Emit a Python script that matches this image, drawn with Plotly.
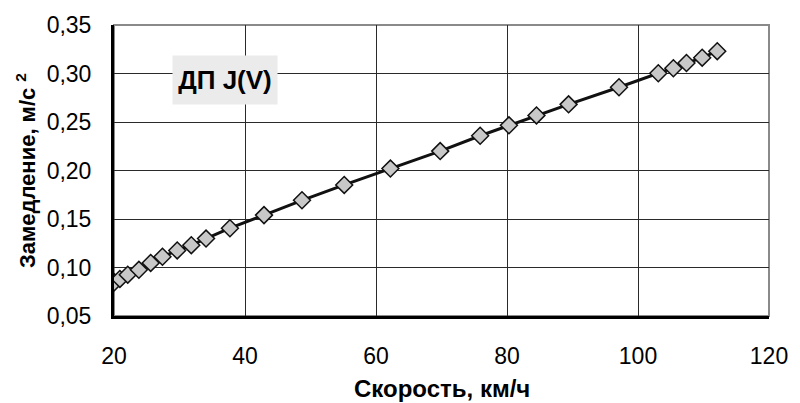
import plotly.graph_objects as go

speed = [20.05, 20.9, 22.1, 23.8, 25.6, 27.4, 29.65, 31.8, 34.05, 37.7,
         42.9, 48.7, 55.15, 62.2, 69.8, 75.9, 80.3, 84.5, 89.4, 97.1,
         103.1, 105.4, 107.4, 109.8, 112.1]
decel = [0.0848, 0.0882, 0.0926, 0.0976, 0.1047, 0.1111, 0.1176, 0.123, 0.1298, 0.1405,
         0.154, 0.1693, 0.1851, 0.202, 0.220, 0.2358, 0.2466, 0.2568, 0.2682, 0.2858,
         0.3003, 0.3054, 0.3108, 0.3163, 0.323]

x_ticks = [20, 40, 60, 80, 100, 120]
y_ticks = [0.05, 0.10, 0.15, 0.20, 0.25, 0.30, 0.35]
y_tick_text = ["0,05", "0,10", "0,15", "0,20", "0,25", "0,30", "0,35"]

FONT = "Liberation Sans, Arial, sans-serif"

fig = go.Figure()
fig.add_trace(go.Scatter(
    x=speed, y=decel, mode="lines+markers",
    line=dict(color="#111111", width=3),
    marker=dict(symbol="diamond", size=13, color="#c8c8c8",
                line=dict(color="#111111", width=1.5)),
    showlegend=False, hoverinfo="skip"))

fig.update_layout(
    width=800, height=403,
    margin=dict(l=114, r=26, t=20, b=87),
    paper_bgcolor="white", plot_bgcolor="white",
    font=dict(family=FONT, color="black"),
    xaxis=dict(range=[20, 120], tickvals=x_ticks, ticktext=[str(v) for v in x_ticks],
               showgrid=True, gridcolor="#2a2a2a", gridwidth=1,
               showline=True, linecolor="black", linewidth=3,
               ticks="outside", ticklen=17, tickcolor="rgba(0,0,0,0)",
               tickfont=dict(size=23), zeroline=False),
    yaxis=dict(range=[0.05, 0.35], tickvals=y_ticks, ticktext=y_tick_text,
               showgrid=True, gridcolor="#2a2a2a", gridwidth=1,
               showline=True, linecolor="black", linewidth=3,
               ticks="outside", ticklen=15, tickcolor="rgba(0,0,0,0)",
               tickfont=dict(size=23), zeroline=False),
    shapes=[dict(type="rect", xref="paper", yref="paper", x0=0, x1=1, y0=0, y1=1,
                 line=dict(color="#8a8a8a", width=2), layer="below")],
    annotations=[
        dict(x=37, y=0.2935, xref="x", yref="y", text="<b>ДП J(V)</b>",
             showarrow=False, font=dict(size=26, color="black"),
             bgcolor="#ebebeb", width=100, height=44, borderpad=2),
        dict(x=0.5, y=-0.25, xref="paper", yref="paper", text="<b>Скорость, км/ч</b>",
             showarrow=False, font=dict(size=24, color="black"),
             xanchor="center", yanchor="middle"),
        dict(x=-0.135, y=0.5, xref="paper", yref="paper",
             text="<b>Замедление, м/с <sup>2</sup></b>", textangle=-90,
             showarrow=False, font=dict(size=22, color="black"),
             xanchor="center", yanchor="middle"),
    ],
)

fig.write_html("out.html")
